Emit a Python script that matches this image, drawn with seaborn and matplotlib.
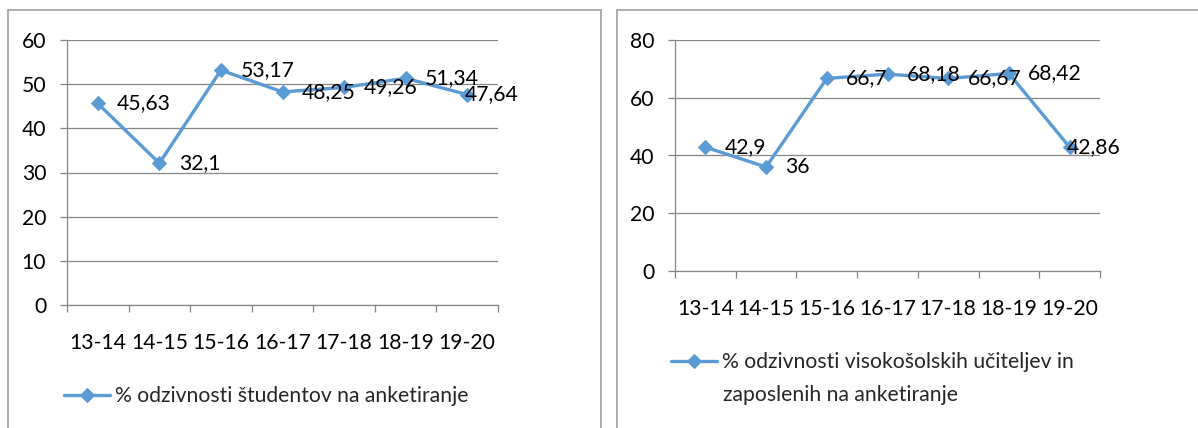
import numpy as np
import pandas as pd
import seaborn as sns
import matplotlib.pyplot as plt
from matplotlib.patches import Rectangle
from matplotlib.ticker import FixedLocator

YEARS = ['13-14', '14-15', '15-16', '16-17', '17-18', '18-19', '19-20']
STUDENTS = [45.63, 32.1, 53.17, 48.25, 49.26, 51.34, 47.64]
STAFF = [42.9, 36, 66.7, 68.18, 66.67, 68.42, 42.86]
STUDENTS_LABEL = '% odzivnosti študentov na anketiranje'
STAFF_LABEL_1 = '% odzivnosti visokošolskih učiteljev in'
STAFF_LABEL_2 = 'zaposlenih na anketiranje'

BLUE = '#5B9BD5'
GRID = '#868686'
FS = 15.2

sns.set_theme(style='white')
plt.rcParams['font.family'] = ['Lato', 'DejaVu Sans']


def draw_panel(ax, values, label, ymax, ystep):
    """Line chart with Excel-like styling and data labels to the right."""
    df = pd.DataFrame({'year': YEARS, 'value': values})
    sns.lineplot(data=df, x='year', y='value', ax=ax, color=BLUE,
                 linewidth=2.4, marker='D', markersize=7.5,
                 markeredgecolor=BLUE, label=label, sort=False)

    for i, v in enumerate(values):
        # the last label is pushed back inside the plot area, like Excel does
        dx = 14 if i < len(values) - 1 else -2
        ax.annotate(f'{v:g}'.replace('.', ','), (i, v), xytext=(dx, 0),
                    textcoords='offset points', ha='left', va='center',
                    fontsize=FS, color='black')

    ax.set_xlim(-0.5, len(YEARS) - 0.5)
    ax.set_ylim(0, ymax)
    ax.set_yticks(np.arange(0, ymax + 1, ystep))
    ax.set_xticks(range(len(YEARS)))
    ax.set_xticklabels(YEARS)
    ax.xaxis.set_minor_locator(FixedLocator(np.arange(-0.5, len(YEARS), 1.0)))
    ax.tick_params(axis='x', which='major', length=0, pad=20, labelsize=FS,
                   labelcolor='black')
    ax.tick_params(axis='x', which='minor', length=5, width=0.9,
                   color=GRID, direction='out', bottom=True)
    ax.tick_params(axis='y', length=5, width=0.9, color=GRID,
                   direction='out', left=True, pad=10, labelsize=FS,
                   labelcolor='black')
    ax.set_xlabel('')
    ax.set_ylabel('')
    ax.yaxis.grid(True, color=GRID, linewidth=0.9)
    ax.set_axisbelow(True)
    for side in ['top', 'right']:
        ax.spines[side].set_visible(False)
    for side in ['left', 'bottom']:
        ax.spines[side].set_color(GRID)
        ax.spines[side].set_linewidth(0.9)


W, H = 1198, 428
fig = plt.figure(figsize=(W / 100, H / 100), dpi=100)

# panel frames
for x0, x1 in [(8, 601), (617, 1205)]:
    fig.patches.append(Rectangle((x0 / W, -0.1), (x1 - x0) / W, 1.1 - 10 / H,
                                 transform=fig.transFigure, fill=False,
                                 edgecolor='#A6A6A6', linewidth=1.3))

ax1 = fig.add_axes([67 / W, 1 - 305 / H, (498 - 67) / W, (305 - 40) / H])
ax2 = fig.add_axes([675 / W, 1 - 271 / H, (1100 - 675) / W, (271 - 40) / H])

draw_panel(ax1, STUDENTS, STUDENTS_LABEL, 60, 10)
draw_panel(ax2, STAFF, STAFF_LABEL_1, 80, 20)

ax1.legend(loc='center left', bbox_to_anchor=(64 / W, 1 - 396 / H),
           bbox_transform=fig.transFigure, frameon=False, fontsize=FS,
           borderpad=0, borderaxespad=0, handlelength=2.2, handletextpad=0.22)
ax2.legend(loc='center left', bbox_to_anchor=(671 / W, 1 - 362 / H),
           bbox_transform=fig.transFigure, frameon=False, fontsize=FS,
           borderpad=0, borderaxespad=0, handlelength=2.2, handletextpad=0.22)
fig.text(723 / W, 1 - 395 / H, STAFF_LABEL_2, fontsize=FS,
         ha='left', va='center')

fig.savefig('out.png', dpi=100)
